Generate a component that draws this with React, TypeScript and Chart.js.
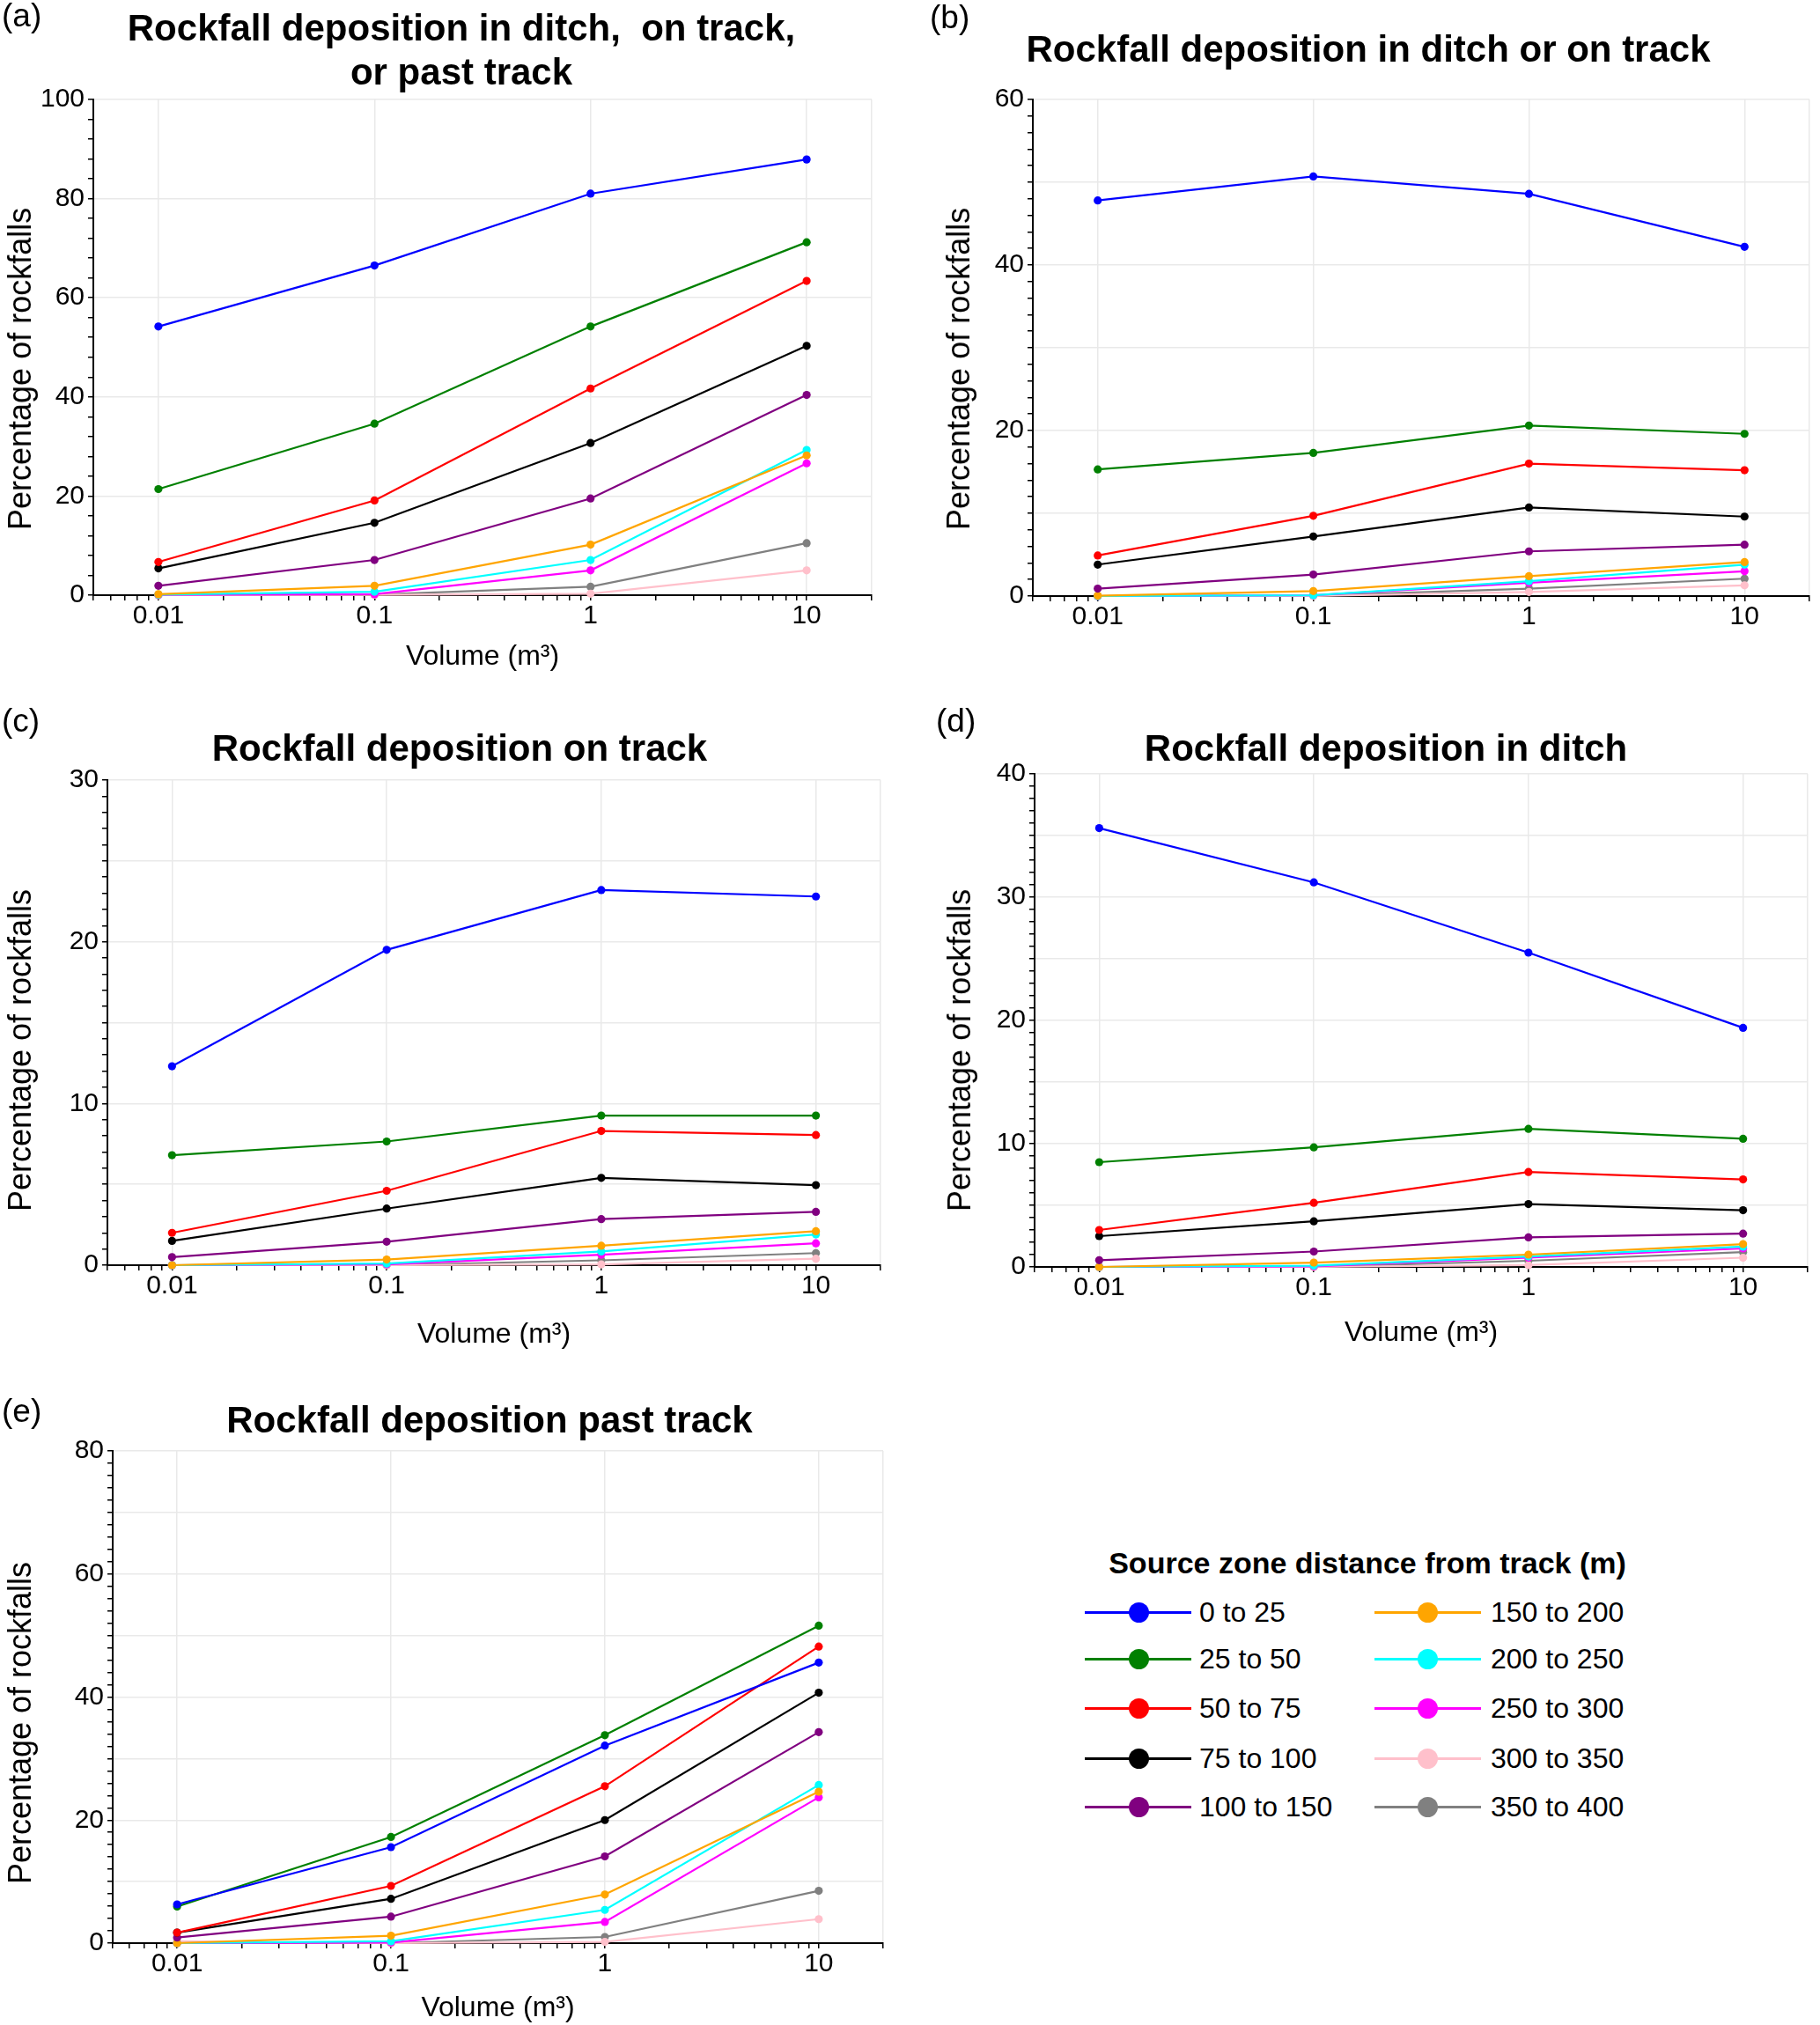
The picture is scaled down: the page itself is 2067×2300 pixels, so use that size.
import React, { useEffect, useRef } from 'react';
import { Chart, registerables } from 'chart.js';

Chart.register(...registerables);

const FONT = "'Liberation Sans', Arial, Helvetica, sans-serif";
const GRID = '#e9e9e9';

// ---- data ----
const volumes = [0.01, 0.1, 1, 10];
const volumeTickLabels = ['0.01', '0.1', '1', '10'];
const minorMultipliers = [2, 3, 4, 5, 6, 7, 8, 9];

const zoneLabels = [
  '0 to 25', '25 to 50', '50 to 75', '75 to 100', '100 to 150',
  '150 to 200', '200 to 250', '250 to 300', '300 to 350', '350 to 400',
];
const zoneColors = [
  '#0000ff', '#008000', '#ff0000', '#000000', '#800080',
  '#ffa500', '#00ffff', '#ff00ff', '#ffc0cb', '#808080',
];

// (a) ditch, on track, or past track — one row per source zone
const ditchTrackOrPast = [
  [54.2, 66.5, 81.0, 87.9],
  [21.4, 34.6, 54.2, 71.2],
  [6.7, 19.1, 41.7, 63.4],
  [5.4, 14.6, 30.7, 50.3],
  [1.9, 7.1, 19.5, 40.4],
  [0.2, 1.9, 10.2, 28.2],
  [0.1, 0.7, 7.1, 29.3],
  [0.05, 0.2, 5.0, 26.6],
  [0.0, 0.05, 0.3, 5.0],
  [0.0, 0.1, 1.7, 10.5],
];
// (b) ditch or on track
const ditchOrTrack = [
  [47.8, 50.7, 48.6, 42.2],
  [15.3, 17.3, 20.6, 19.6],
  [4.9, 9.7, 16.0, 15.2],
  [3.8, 7.2, 10.7, 9.6],
  [0.9, 2.6, 5.4, 6.2],
  [0.05, 0.6, 2.4, 4.1],
  [0.0, 0.1, 1.8, 3.8],
  [0.0, 0.1, 1.6, 3.0],
  [0.0, 0.0, 0.5, 1.3],
  [0.0, 0.05, 0.9, 2.1],
];
// (c) on track
const onTrack = [
  [12.3, 19.5, 23.2, 22.8],
  [6.8, 7.65, 9.25, 9.25],
  [2.0, 4.6, 8.3, 8.05],
  [1.5, 3.5, 5.4, 4.95],
  [0.5, 1.45, 2.85, 3.3],
  [0.0, 0.35, 1.2, 2.1],
  [0.0, 0.1, 0.85, 1.9],
  [0.0, 0.05, 0.65, 1.35],
  [0.0, 0.0, 0.05, 0.4],
  [0.0, 0.0, 0.3, 0.75],
];
// (d) in ditch
const inDitch = [
  [35.6, 31.2, 25.5, 19.4],
  [8.5, 9.7, 11.2, 10.4],
  [3.0, 5.2, 7.7, 7.1],
  [2.5, 3.7, 5.1, 4.6],
  [0.55, 1.25, 2.4, 2.7],
  [0.0, 0.35, 1.0, 1.85],
  [0.0, 0.1, 0.85, 1.65],
  [0.0, 0.05, 0.75, 1.5],
  [0.0, 0.0, 0.15, 0.75],
  [0.0, 0.0, 0.5, 1.2],
];
// (e) past track
const pastTrack = [
  [6.3, 15.6, 32.1, 45.6],
  [5.95, 17.25, 33.8, 51.6],
  [1.7, 9.3, 25.5, 48.2],
  [1.7, 7.2, 20.0, 40.7],
  [0.9, 4.3, 14.1, 34.3],
  [0.0, 1.2, 7.9, 24.6],
  [0.0, 0.3, 5.4, 25.7],
  [0.0, 0.1, 3.45, 23.7],
  [0.3, 0.0, 0.2, 3.9],
  [0.0, 0.0, 1.0, 8.5],
];

const panelTitles = [
  ['Rockfall deposition in ditch,  on track,', 'or past track'],
  ['Rockfall deposition in ditch or on track'],
  ['Rockfall deposition on track'],
  ['Rockfall deposition in ditch'],
  ['Rockfall deposition past track'],
];
const panelLetters = ['(a)', '(b)', '(c)', '(d)', '(e)'];
const yTitleText = 'Percentage of rockfalls';
const xTitleText = 'Volume (m³)';

// y axis tick specs per panel: [max, labelStep, gridStep, minorStep]
const yAxisA = [100, 20, 20, 4];
const yAxisB = [60, 20, 10, 2];
const yAxisC = [30, 10, 5, 1];
const yAxisD = [40, 10, 5, 1];
const yAxisE = [80, 20, 10, 2];

const legendTitle = 'Source zone distance from track (m)';

// ---- layout ----
type Panel = {
  values: number[][];
  yAxis: number[];
  left: number; top: number; w: number; h: number;
  cL: number; cR: number; cT: number; cB: number;
  yTitleX: number; yTitleY: number; xTitleY: number | null;
  titleX: number; titleY: number[];
  letterX: number; letterY: number;
};

const panels: Panel[] = [
  { values: ditchTrackOrPast, yAxis: yAxisA, left: 0, top: 0, w: 1030, h: 780,
    cL: 106, cR: 990, cT: 113, cB: 676, yTitleX: 23, yTitleY: 419, xTitleY: 746,
    titleX: 524, titleY: [32, 82], letterX: 2, letterY: 18 },
  { values: ditchOrTrack, yAxis: yAxisB, left: 1030, top: 0, w: 1037, h: 780,
    cL: 143, cR: 1025, cT: 113, cB: 677, yTitleX: 1089, yTitleY: 419, xTitleY: null,
    titleX: 1554, titleY: [56], letterX: 1056, letterY: 20 },
  { values: onTrack, yAxis: yAxisC, left: 0, top: 780, w: 1030, h: 765,
    cL: 122, cR: 1000, cT: 106, cB: 657, yTitleX: 23, yTitleY: 1193, xTitleY: 736,
    titleX: 522, titleY: [850], letterX: 2, letterY: 819 },
  { values: inDitch, yAxis: yAxisD, left: 1030, top: 780, w: 1037, h: 765,
    cL: 145, cR: 1023, cT: 99, cB: 659, yTitleX: 1090, yTitleY: 1193, xTitleY: 734,
    titleX: 1574, titleY: [850], letterX: 1063, letterY: 819 },
  { values: pastTrack, yAxis: yAxisE, left: 0, top: 1545, w: 1030, h: 755,
    cL: 128, cR: 1003, cT: 103, cB: 662, yTitleX: 23, yTitleY: 1957, xTitleY: 737,
    titleX: 556, titleY: [1613], letterX: 2, letterY: 1603 },
];

function buildXTicks(): number[] {
  const t: number[] = [0.005, 0.006, 0.007, 0.008, 0.009];
  volumes.forEach((d) => {
    t.push(d);
    if (d < 10) minorMultipliers.forEach((m) => t.push(+(m * d).toPrecision(6)));
  });
  t.push(20);
  return t;
}

function majorIndex(v: number): number {
  return volumes.findIndex((d) => Math.abs(d - v) < d * 1e-6);
}

const Y_TITLE_FONT = 36;
const X_TITLE_FONT = 32;
const TICK_FONT = 30;

function ChartPanel({ p }: { p: Panel }) {
  const ref = useRef<HTMLCanvasElement>(null);
  useEffect(() => {
    const canvas = ref.current!;
    const [yMax, labelStep, gridStep, minorStep] = p.yAxis;
    const xTicks = buildXTicks();
    const xTitleLH = X_TITLE_FONT * 1.2;
    const chart = new Chart(canvas, {
      type: 'line',
      data: {
        datasets: p.values.map((vals, i) => ({
          label: zoneLabels[i],
          data: volumes.map((v, j) => ({ x: v, y: vals[j] })),
          borderColor: zoneColors[i],
          backgroundColor: zoneColors[i],
          borderWidth: 2.2,
          pointRadius: 4.6,
          pointHoverRadius: 4.6,
          pointBorderWidth: 0,
          tension: 0,
          clip: 10,
        })),
      },
      options: {
        responsive: false,
        animation: false,
        events: [],
        layout: { padding: { left: 0, top: p.cT, right: p.w - p.cR, bottom: 0 } },
        plugins: {
          legend: { display: false },
          title: { display: false },
          tooltip: { enabled: false },
        },
        scales: {
          x: {
            type: 'logarithmic',
            position: 'bottom',
            min: 0.005,
            max: 20,
            afterBuildTicks: (s: any) => {
              s.ticks = xTicks.map((v) => ({ value: v }));
            },
            afterFit: (s: any) => {
              s.height = p.h - p.cB;
            },
            ticks: {
              autoSkip: false,
              maxRotation: 0,
              minRotation: 0,
              padding: 0,
              color: '#000',
              font: { size: TICK_FONT, family: FONT },
              callback: (v: any) => {
                const k = majorIndex(Number(v));
                return k >= 0 ? volumeTickLabels[k] : '';
              },
            },
            grid: {
              color: (ctx: any) => {
                const v = ctx.tick ? ctx.tick.value : 0;
                return majorIndex(v) >= 0 || v === 20 ? GRID : 'rgba(0,0,0,0)';
              },
              lineWidth: 1.5,
              tickColor: '#000',
              tickLength: 6,
              tickWidth: 1.5,
            },
            border: { color: '#000', width: 2 },
            title: p.xTitleY === null
              ? { display: false }
              : {
                  display: true,
                  text: xTitleText,
                  color: '#000',
                  font: { size: X_TITLE_FONT, family: FONT, lineHeight: 1.2 },
                  padding: { top: 0, bottom: Math.max(0, p.h - p.xTitleY - xTitleLH / 2) },
                },
          },
          y: {
            type: 'linear',
            min: 0,
            max: yMax,
            afterBuildTicks: (s: any) => {
              const t: any[] = [];
              for (let v = 0; v <= yMax + 1e-9; v += minorStep) t.push({ value: v });
              s.ticks = t;
            },
            afterFit: (s: any) => {
              s.width = p.cL;
            },
            ticks: {
              autoSkip: false,
              padding: 4,
              color: '#000',
              font: { size: TICK_FONT, family: FONT },
              callback: (v: any) => (Math.round(Number(v)) % labelStep === 0 ? String(v) : ''),
            },
            grid: {
              color: (ctx: any) => {
                const v = ctx.tick ? Math.round(ctx.tick.value) : 0;
                return v !== 0 && v % gridStep === 0 ? GRID : 'rgba(0,0,0,0)';
              },
              lineWidth: 1.5,
              tickColor: '#000',
              tickLength: 6,
              tickWidth: 1.5,
            },
            border: { color: '#000', width: 2 },
            title: { display: false },
          },
        },
      } as any,
    });
    return () => chart.destroy();
  }, [p]);
  return (
    <canvas
      ref={ref}
      width={p.w}
      height={p.h}
      style={{ position: 'absolute', left: p.left, top: p.top, width: p.w, height: p.h }}
    />
  );
}

const legendRowsY = [1831, 1884, 1940, 1997, 2052];
const legendCols = [
  { lineL: 1232, lineR: 1353, dot: 1293, text: 1362 },
  { lineL: 1561, lineR: 1682, dot: 1621, text: 1693 },
];

function Legend() {
  return (
    <>
      <div
        style={{
          position: 'absolute', left: 1553, top: 1775, transform: 'translate(-50%, -50%)',
          font: `bold 34px ${FONT}`, whiteSpace: 'pre', color: '#000',
        }}
      >
        {legendTitle}
      </div>
      {zoneLabels.map((lab, i) => {
        const col = legendCols[i < 5 ? 0 : 1];
        const y = legendRowsY[i % 5];
        return (
          <React.Fragment key={lab}>
            <div style={{ position: 'absolute', left: col.lineL, top: y - 1.5, width: col.lineR - col.lineL, height: 3, background: zoneColors[i] }} />
            <div style={{ position: 'absolute', left: col.dot - 11.5, top: y - 11.5, width: 23, height: 23, borderRadius: '50%', background: zoneColors[i] }} />
            <div style={{ position: 'absolute', left: col.text, top: y, transform: 'translateY(-50%)', font: `32px ${FONT}`, whiteSpace: 'pre', color: '#000' }}>
              {lab}
            </div>
          </React.Fragment>
        );
      })}
    </>
  );
}

export default function App() {
  return (
    <div style={{ position: 'absolute', left: 0, top: 0, width: 2067, height: 2300, background: '#fff', overflow: 'hidden', fontFamily: FONT }}>
      {panels.map((p, i) => (
        <React.Fragment key={i}>
          <ChartPanel p={p} />
          {panelTitles[i].map((line, k) => (
            <div
              key={k}
              style={{
                position: 'absolute', left: p.titleX, top: p.titleY[k], transform: 'translate(-50%, -50%)',
                font: `bold 42px ${FONT}`, whiteSpace: 'pre', color: '#000',
              }}
            >
              {line}
            </div>
          ))}
          <div
            style={{
              position: 'absolute', left: p.letterX, top: p.letterY, transform: 'translateY(-50%)',
              font: `37px ${FONT}`, whiteSpace: 'pre', color: '#000',
            }}
          >
            {panelLetters[i]}
          </div>
          <div
            style={{
              position: 'absolute', left: p.yTitleX, top: p.yTitleY,
              transform: 'translate(-50%, -50%) rotate(-90deg)',
              font: `${Y_TITLE_FONT}px ${FONT}`, whiteSpace: 'pre', color: '#000',
            }}
          >
            {yTitleText}
          </div>
        </React.Fragment>
      ))}
      <Legend />
    </div>
  );
}
